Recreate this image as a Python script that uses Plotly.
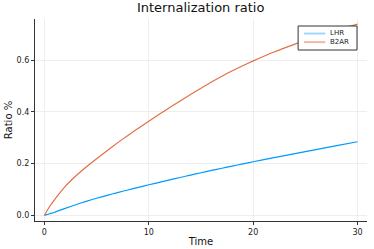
import plotly.graph_objects as go

time = [0, 0.5, 1, 2, 3, 4, 5, 6, 7, 8, 9, 10, 11, 12, 13, 14, 15, 16, 17, 18, 19, 20,
        22, 24, 26, 28, 30]
lhr = [0, 0.006, 0.012, 0.027, 0.041, 0.054, 0.066, 0.077, 0.088, 0.098, 0.108, 0.118,
       0.1275, 0.137, 0.1463, 0.1555, 0.1645, 0.1735, 0.182, 0.1905, 0.1988, 0.207,
       0.2228, 0.2385, 0.254, 0.2695, 0.2845]
b2ar = [0, 0.034, 0.062, 0.112, 0.152, 0.187, 0.219, 0.250, 0.280, 0.309, 0.337, 0.364,
        0.3905, 0.4165, 0.442, 0.467, 0.4915, 0.5155, 0.538, 0.559, 0.5785, 0.597,
        0.6315, 0.662, 0.690, 0.7155, 0.739]
series_names = ["LHR", "B2AR"]
series_colors = ["#009AFA", "#E26F46"]
legend_colors = ["#9fd8f8", "#f3b8a3"]

fig = go.Figure()
for name, ys, col in zip(series_names, [lhr, b2ar], series_colors):
    fig.add_trace(go.Scatter(x=time, y=ys, mode="lines", name=name, showlegend=False,
                             line=dict(color=col, width=1.2, shape="spline", smoothing=0.6)))

axis_common = dict(showline=True, linecolor="#333333", linewidth=1.2, mirror=False,
                   showgrid=True, gridcolor="#eeeeee", gridwidth=0.6, zeroline=False,
                   ticks="outside", ticklen=3, tickcolor="#333333", automargin=False,
                   tickfont=dict(size=8, color="#222222"))

# custom legend box (paper coordinates of plot area)
shapes = [dict(type="rect", xref="paper", yref="paper", x0=0.7925, x1=0.9699, y0=0.8465, y1=0.9653,
               line=dict(color="#333333", width=1), fillcolor="white", layer="above")]
for i, lc in enumerate(legend_colors):
    yy = [0.928, 0.8855][i]
    shapes.append(dict(type="line", xref="paper", yref="paper", x0=0.8105, x1=0.8745, y0=yy, y1=yy,
                       line=dict(color=lc, width=2), layer="above"))
annotations = [dict(text="<br>".join(series_names), xref="paper", yref="paper", x=0.8848, y=0.906,
                    xanchor="left", yanchor="middle", align="left", showarrow=False,
                    borderpad=0, font=dict(size=7, color="#222222"))]

fig.update_layout(
    width=374, height=249,
    margin=dict(l=34.5, r=7, t=19, b=28),
    paper_bgcolor="white", plot_bgcolor="white",
    font=dict(family="DejaVu Sans", color="#111111"),
    title=dict(text="Internalization ratio", x=0.5366, xanchor="center", y=0.988, yanchor="top",
               font=dict(size=13)),
    xaxis=dict(range=[-0.9, 30.9], tickvals=[0, 10, 20, 30],
               title=dict(text="Time", font=dict(size=10), standoff=2), **axis_common),
    yaxis=dict(range=[-0.022, 0.759], tickvals=[0, 0.2, 0.4, 0.6], tickformat=".1f",
               title=dict(text="Ratio %", font=dict(size=10), standoff=2), **axis_common),
    shapes=shapes,
    annotations=annotations,
    showlegend=False,
)

fig.write_html("out.html", config={"displayModeBar": False},
               post_script="document.body.style.margin='0';document.body.style.overflow='hidden';")
